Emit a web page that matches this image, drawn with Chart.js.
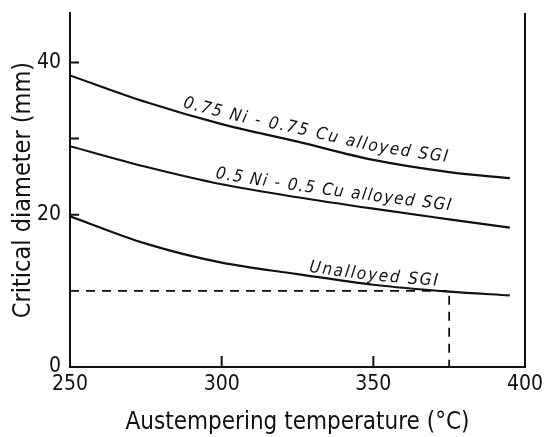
<!DOCTYPE html>
<html>
<head>
<meta charset="utf-8">
<script src="https://cdn.jsdelivr.net/npm/chart.js@4"></script>
<style>
  html, body { margin: 0; padding: 0; background: #fff; }
  #wrap { width: 544px; height: 437px; }
</style>
</head>
<body>
<div id="wrap"><canvas id="chart"></canvas></div>
<script>
// austempering temperature (°C) where the curves were read
const temps = [250, 275, 300, 325, 350, 375, 395];
// critical diameter (mm)
const ni075 = [38.3, 34.8, 31.9, 29.6, 27.2, 25.6, 24.8];
const ni05 = [29.0, 26.3, 24.0, 22.3, 20.8, 19.4, 18.3];
const unalloyed = [19.8, 16.2, 13.7, 12.2, 10.8, 9.9, 9.4];

// dashed guide: 10 mm -> 375 °C
const guideX = [250, 375, 375];
const guideY = [10, 10, 0];

const xTickLabels = [250, 300, 350, 400];
const yTickLabels = [0, 20, 40];
const xTickMarks = [300, 350];
const yTickMarks = [20, 30, 40];

// curve names, written along the curves between two temperatures
const curveNames = ['0.75 Ni - 0.75 Cu alloyed SGI', '0.5 Ni - 0.5 Cu alloyed SGI', 'Unalloyed SGI'];
const nameFromT = [286.5, 297.5, 328.5];
const nameToT = [374, 375, 371];

const toPts = (xs, ys) => xs.map((x, i) => ({ x: x, y: ys[i] }));

function curve(values) {
    return {
        data: toPts(temps, values),
        borderColor: '#111',
        borderWidth: 2.2,
        pointRadius: 0,
        fill: false,
        cubicInterpolationMode: 'monotone'
    };
}

// y of the drawn line at pixel x, and its angle
function lineAt(line, x) {
    const p = line.interpolate({ x: x }, 'x');
    const a = line.interpolate({ x: x - 2 }, 'x');
    const b = line.interpolate({ x: x + 2 }, 'x');
    return { y: p.y, ang: Math.atan2(b.y - a.y, 4) };
}

function writeAlong(ctx, line, text, x0, x1, g0, g1) {
    const chars = Array.from(text);
    const widths = chars.map(c => ctx.measureText(c).width);
    const sum = widths.reduce((s, w) => s + w, 0);
    // approximate arc length of the span
    const a0 = lineAt(line, x0), a1 = lineAt(line, x1);
    const span = Math.hypot(x1 - x0, a1.y - a0.y);
    const gap = (span - sum) / (chars.length - 1);
    let x = x0, run = 0;
    chars.forEach((c, i) => {
        const w = widths[i];
        const t0 = lineAt(line, x);
        const cx = x + (w / 2) * Math.cos(t0.ang);
        const t = lineAt(line, cx);
        const off = g0 + (g1 - g0) * (run + w / 2) / span;
        ctx.save();
        ctx.translate(cx + off * Math.sin(t.ang), t.y - off * Math.cos(t.ang));
        ctx.rotate(t.ang);
        ctx.fillText(c, 0, 0);
        ctx.restore();
        x += (w + gap) * Math.cos(t.ang);
        run += w + gap;
    });
}

// inner tick marks, right frame line and the curve names
const extras = {
    id: 'extras',
    afterDraw(chart, args, opts) {
        const { ctx, chartArea } = chart;
        const xs = chart.scales.x, ys = chart.scales.y;
        ctx.save();
        ctx.strokeStyle = '#111';
        ctx.lineWidth = 2;
        ctx.beginPath();
        ctx.moveTo(chartArea.right, chartArea.top);
        ctx.lineTo(chartArea.right, chartArea.bottom);
        yTickMarks.forEach(v => {
            const y = ys.getPixelForValue(v);
            ctx.moveTo(chartArea.left, y);
            ctx.lineTo(chartArea.left + 9, y);
        });
        xTickMarks.forEach(v => {
            const x = xs.getPixelForValue(v);
            ctx.moveTo(x, chartArea.bottom);
            ctx.lineTo(x, chartArea.bottom - 11);
        });
        ctx.stroke();

        ctx.fillStyle = '#111';
        ctx.font = 'italic 17px "DejaVu Sans Condensed", "DejaVu Sans"';
        ctx.textAlign = 'center';
        ctx.textBaseline = 'alphabetic';
        curveNames.forEach((name, i) => {
            const line = chart.getDatasetMeta(i).dataset;
            writeAlong(ctx, line, name,
                xs.getPixelForValue(nameFromT[i]), xs.getPixelForValue(nameToT[i]),
                opts.gaps[i][0], opts.gaps[i][1]);
        });
        ctx.restore();
    }
};

const ctx = document.getElementById('chart').getContext('2d');
const chart = new Chart(ctx, {
    type: 'line',
    data: {
        datasets: [
            curve(ni075),
            curve(ni05),
            curve(unalloyed),
            {
                data: toPts(guideX, guideY),
                borderColor: '#111',
                borderWidth: 1.8,
                borderDash: [9, 7],
                pointRadius: 0,
                tension: 0,
                fill: false
            }
        ]
    },
    options: {
        responsive: true,
        maintainAspectRatio: false,
        animation: false,
        layout: { padding: { top: 13, right: 19, left: 0, bottom: 0 } },
        plugins: {
            legend: { display: false },
            tooltip: { enabled: false },
            extras: { gaps: [[6, 10], [5, 9], [4, 5]] }
        },
        scales: {
            x: {
                type: 'linear',
                min: 250,
                max: 400,
                afterBuildTicks: s => { s.ticks = xTickLabels.map(v => ({ value: v })); },
                afterFit: s => { s.height = 70; s.paddingLeft = 0; s.paddingRight = 0; },
                grid: { display: false, drawTicks: false },
                border: { display: true, color: '#111', width: 2 },
                ticks: {
                    padding: 5,
                    color: '#111',
                    maxRotation: 0,
                    font: { family: '"DejaVu Sans Condensed", "DejaVu Sans"', size: 21 }
                },
                title: {
                    display: true,
                    text: 'Austempering temperature (°C)',
                    color: '#111',
                    padding: { top: 0, bottom: 0 },
                    font: { family: '"DejaVu Sans Condensed", "DejaVu Sans"', size: 24 }
                }
            },
            y: {
                min: 0,
                max: 46.5,
                afterBuildTicks: s => { s.ticks = yTickLabels.map(v => ({ value: v })); },
                afterFit: s => { s.width = 70; s.paddingTop = 0; s.paddingBottom = 0; },
                grid: { display: false, drawTicks: false },
                border: { display: true, color: '#111', width: 2 },
                ticks: {
                    padding: 9,
                    color: '#111',
                    font: { family: '"DejaVu Sans Condensed", "DejaVu Sans"', size: 21 }
                },
                title: {
                    display: true,
                    text: 'Critical diameter (mm)',
                    color: '#111',
                    padding: { top: 8, bottom: 0 },
                    font: { family: '"DejaVu Sans Condensed", "DejaVu Sans"', size: 25 }
                }
            }
        }
    },
    plugins: [extras]
});
</script>
</body>
</html>
